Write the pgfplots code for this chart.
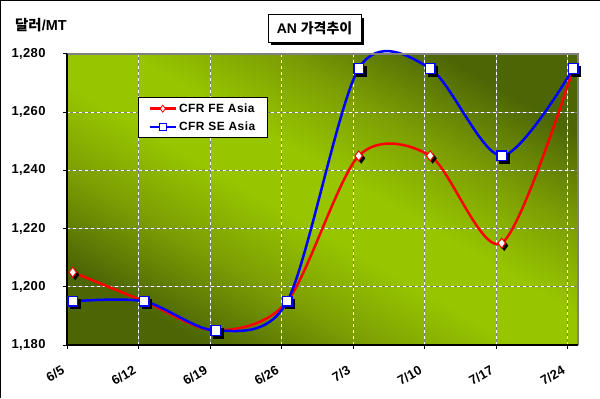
\documentclass[border=0pt]{standalone}
\usepackage{pgfplots}
\pgfplotsset{compat=1.18}
\usepackage{fontspec}
\setmainfont{Liberation Sans}
\newfontfamily\cjk{Noto Sans CJK KR}
\usetikzlibrary{shadows}
\definecolor{darkol}{HTML}{4C6605}
\definecolor{midg}{HTML}{7C9E04}
\definecolor{brightg}{HTML}{97C500}
\pgfdeclareverticalshading{bgsh}{100bp}{color(0bp)=(darkol); color(25bp)=(darkol); color(36bp)=(midg); color(46bp)=(brightg); color(54bp)=(brightg); color(64bp)=(midg); color(75bp)=(darkol); color(100bp)=(darkol)}
\begin{document}
\begin{tikzpicture}[x=1bp,y=1bp]
\path[use as bounding box] (0,0) rectangle (600,398);
\draw[black, line width=2bp] (0,0) -- (0,398) -- (600,398);
\node[draw=black, line width=1bp, fill=white,
      drop shadow={shadow xshift=3bp, shadow yshift=-3bp, opacity=1, fill=black},
      minimum width=93bp, minimum height=27bp, inner sep=2bp,
      font=\bfseries\fontsize{14}{14}\selectfont] at (314.5,369.5) {AN {\cjk\bfseries 가격추이}};
\node[anchor=west, inner sep=0pt, font=\bfseries\fontsize{14.5}{14.5}\selectfont] at (15,373) {{\cjk\bfseries 달러}/MT};
\begin{axis}[
  at={(67bp,53bp)}, anchor=south west,
  scale only axis, width=511bp, height=291bp,
  xmin=-0.08, xmax=7.067, ymin=1180, ymax=1280,
  clip=false,
  axis background/.style={shade, shading=bgsh, shading angle=-30},
  axis line style={draw=none},
  xtick={-0.08,0.92,1.92,2.92,3.92,4.92,5.92,6.92},
  xticklabels={6/5,6/12,6/19,6/26,7/3,7/10,7/17,7/24},
  ytick={1180,1200,1220,1240,1260,1280},
  xtick pos=bottom, ytick pos=left,
  tick align=outside, major tick length=4bp,
  tick style={black, line width=1bp},
  /pgf/number format/.cd, 1000 sep={,}, assume math mode=true, /pgfplots/.cd,
  yticklabel style={xshift=-14bp, font=\bfseries\fontsize{13}{13}\selectfont\addfontfeature{LetterSpace=3}},
  x tick label style={rotate=30, anchor=north east, yshift=-7bp, xshift=-10bp, font=\bfseries\fontsize{13}{13}\selectfont},
  grid=major,
  major grid style={white, line width=1bp, dash pattern=on 3bp off 3bp,
     postaction={draw, gray, line width=1bp, dash pattern=on 3bp off 3bp, dash phase=3bp}},
  legend style={at={(0.139,0.852)}, anchor=north west, draw=black, line width=1bp, fill=white,
     font=\bfseries\fontsize{12}{12}\selectfont\addfontfeature{LetterSpace=4}, row sep=4bp, inner xsep=10bp, inner ysep=4bp},
  legend cell align=left,
  legend image code/.code={\draw[mark repeat=2,mark phase=2,#1] plot coordinates {(0bp,0bp) (13bp,0bp) (26bp,0bp)};},
]
\addplot[red, line width=2.5bp, smooth, forget plot] coordinates {(0,1205) (1,1195) (2,1185) (3,1195) (4,1245) (5,1245) (6,1215) (7,1275)};
\addplot[blue, line width=2.5bp, smooth, forget plot] coordinates {(0,1195) (1,1195) (2,1185) (3,1195) (4,1275) (5,1275) (6,1245) (7,1275)};
\addplot[only marks, mark=diamond*, mark size=5bp, black, forget plot, mark options={xshift=2.5bp, yshift=-2.5bp}] coordinates {(0,1205) (1,1195) (2,1185) (3,1195) (4,1245) (5,1245) (6,1215) (7,1275)};
\addplot[only marks, mark=square*, mark size=4.8bp, black, forget plot, mark options={xshift=2.5bp, yshift=-2.5bp}] coordinates {(0,1195) (1,1195) (2,1185) (3,1195) (4,1275) (5,1275) (6,1245) (7,1275)};
\addplot[only marks, mark=diamond*, mark size=5bp, forget plot, mark options={fill=white, draw=red, line width=1bp}] coordinates {(0,1205) (1,1195) (2,1185) (3,1195) (4,1245) (5,1245) (6,1215) (7,1275)};
\addplot[only marks, mark=square*, mark size=4.8bp, forget plot, mark options={fill=white, draw=blue, line width=1.5bp}] coordinates {(0,1195) (1,1195) (2,1185) (3,1195) (4,1275) (5,1275) (6,1245) (7,1275)};
\addlegendimage{red, line width=2.5bp, mark=diamond*, mark options={fill=white, draw=red, mark size=3.5bp, line width=0.8bp}}
\addlegendentry{CFR FE Asia}
\addlegendimage{blue, line width=2.5bp, mark=square*, mark options={fill=white, draw=blue, mark size=3.5bp, line width=1bp}}
\addlegendentry{CFR SE Asia}
\draw[gray, line width=2bp] (rel axis cs:0,1) -- (rel axis cs:1,1) -- (rel axis cs:1,0);
\draw[black, line width=1.5bp] (rel axis cs:0,1) -- (rel axis cs:0,0) -- (rel axis cs:1,0);
\end{axis}
\end{tikzpicture}
\end{document}
